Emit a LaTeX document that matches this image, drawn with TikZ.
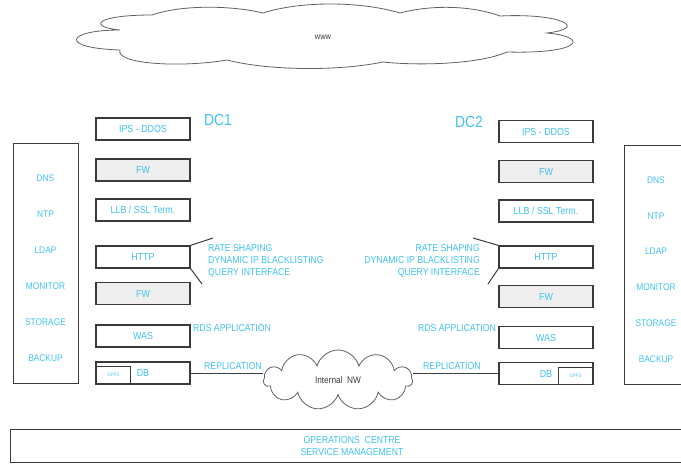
\documentclass[tikz,border=0pt]{standalone}
\usepackage{fontspec}
\setmainfont{Liberation Sans}[FakeStretch=0.87]
\usetikzlibrary{shapes.symbols}
\definecolor{txt}{HTML}{3FC1F0}
\definecolor{edge}{HTML}{3A3A3A}
\definecolor{fwfill}{HTML}{EEEEEE}
\tikzset{
  box/.style={draw=edge, line width=1.3pt, minimum width=94pt, minimum height=22pt, inner sep=0pt, font=\fontsize{10.2}{11}\selectfont, text=txt},
  fwbox/.style={box, fill=fwfill},
  sidebox/.style={draw=edge, line width=1.3pt, inner sep=0pt},
  sidetxt/.style={font=\fontsize{9.6}{10}\selectfont, text=txt, inner sep=0pt},
  note/.style={font=\fontsize{10}{12.2}\selectfont, text=txt, inner sep=0pt},
  dctxt/.style={font=\fontsize{16}{18}\selectfont, text=txt, inner sep=0pt},
  gpfs/.style={draw=edge, line width=0.8pt, font=\fontsize{5}{6}\selectfont, text=txt, inner sep=0pt},
  cloudnode/.style={cloud, draw=edge!80, line width=0.8pt, cloud ignores aspect, inner sep=0pt, font=\fontsize{9.5}{10}\selectfont, text=edge},
  cloudline/.style={draw=edge!80, line width=0.8pt},
  conn/.style={draw=edge, line width=1pt}
}
\begin{document}
\begin{tikzpicture}[x=1pt, y=-1pt]
\clip (0,0) rectangle (681,464);
% www cloud
\draw[cloudline] (120,30) .. controls (88,27) and (94,15) .. (152,15)
  .. controls (180,5) and (230,5) .. (263,13)
  .. controls (300,1) and (360,1) .. (400,13)
  .. controls (430,5) and (470,5) .. (500,16)
  .. controls (560,13) and (590,28) .. (547,33)
  .. controls (590,37) and (582,54) .. (507,52)
  .. controls (480,64) and (420,66) .. (383,62)
  .. controls (340,71) and (270,71) .. (227,60)
  .. controls (180,68) and (115,64) .. (120,50)
  .. controls (58,48) and (66,30) .. (120,30) -- cycle;
\node[text=edge, font=\fontsize{8.5}{9}\selectfont, inner sep=0pt] (www) at (323,37) {www};
\node[cloudnode, cloud puffs=11, minimum width=149pt, minimum height=60pt] (nw) at (338,380) {Internal\ \ NW};
% DC labels
\node[dctxt] (dc1) at (218,120) {DC1};
\node[dctxt] (dc2) at (469,122) {DC2};
% left column
\node[box] (ips1) at (143,129) {IPS - DDOS};
\node[fwbox] (fw1) at (143,170) {FW};
\node[box] (llb1) at (143,210) {LLB / SSL Term.};
\node[box] (http1) at (143,257) {HTTP};
\node[fwbox] (fwb1) at (143,293.5) {FW};
\node[box] (was1) at (143,336) {WAS};
\node[box] (db1) at (143,373) {DB};
\node[gpfs, minimum width=34pt, minimum height=17pt, anchor=south west] (gp1) at (96,384) {GPFS};
% right column
\node[box] (ips2) at (546,131.5) {IPS - DDOS};
\node[fwbox] (fw2) at (546,171.5) {FW};
\node[box] (llb2) at (546,211) {LLB / SSL Term.};
\node[box] (http2) at (546,257) {HTTP};
\node[fwbox] (fwb2) at (546,296.5) {FW};
\node[box] (was2) at (546,337.5) {WAS};
\node[box] (db2) at (546,373.5) {DB};
\node[gpfs, minimum width=34pt, minimum height=17pt, anchor=south east] (gp2) at (593,384.5) {GPFS};
% left side box
\node[sidebox, minimum width=65pt, minimum height=240pt, anchor=north west] (side1) at (13,143) {};
\node[sidetxt] (s1a) at (45.5,178) {DNS};
\node[sidetxt] (s1b) at (45.5,214) {NTP};
\node[sidetxt] (s1c) at (45.5,250) {LDAP};
\node[sidetxt] (s1d) at (45.5,286) {MONITOR};
\node[sidetxt] (s1e) at (45.5,322) {STORAGE};
\node[sidetxt] (s1f) at (45.5,358) {BACKUP};
% right side box
\node[sidebox, minimum width=70pt, minimum height=239pt, anchor=north west] (side2) at (624,145) {};
\node[sidetxt] (s2a) at (656,180) {DNS};
\node[sidetxt] (s2b) at (656,216) {NTP};
\node[sidetxt] (s2c) at (656,251) {LDAP};
\node[sidetxt] (s2d) at (656,287) {MONITOR};
\node[sidetxt] (s2e) at (656,323) {STORAGE};
\node[sidetxt] (s2f) at (656,359) {BACKUP};
% notes
\node[note, align=left, anchor=north west] (n1) at (208,244) {RATE SHAPING\\DYNAMIC IP BLACKLISTING\\QUERY INTERFACE};
\node[note, align=right, anchor=north east] (n2) at (480,244) {RATE SHAPING\\DYNAMIC IP BLACKLISTING\\QUERY INTERFACE};
\node[note, anchor=west] (rds1) at (193,328) {RDS APPLICATION};
\node[note, anchor=east] (rds2) at (496,328) {RDS APPLICATION};
\node[note, anchor=west] (rep1) at (204,366) {REPLICATION};
\node[note, anchor=west] (rep2) at (423,366) {REPLICATION};
% callout lines
\coordinate (h1a) at (213,238);
\coordinate (h1b) at (202,284);
\coordinate (h2a) at (473,238);
\coordinate (h2b) at (488,284);
\draw[conn] (http1.north east) -- (h1a);
\draw[conn] (http1.south east) -- (h1b);
\draw[conn] (http2.north west) -- (h2a);
\draw[conn] (http2.south west) -- (h2b);
% replication
\draw[conn] (db1.east) -- (db1.east -| nw.west);
\draw[conn] (db2.west) -- (db2.west -| nw.east);
% bottom box
\node[sidebox, minimum width=690pt, minimum height=33pt, anchor=north west] (ops) at (10,429) {};
\node[note, align=center] (opst) at (352,446) {OPERATIONS\ \ CENTRE\\SERVICE MANAGEMENT};
\end{tikzpicture}
\end{document}
